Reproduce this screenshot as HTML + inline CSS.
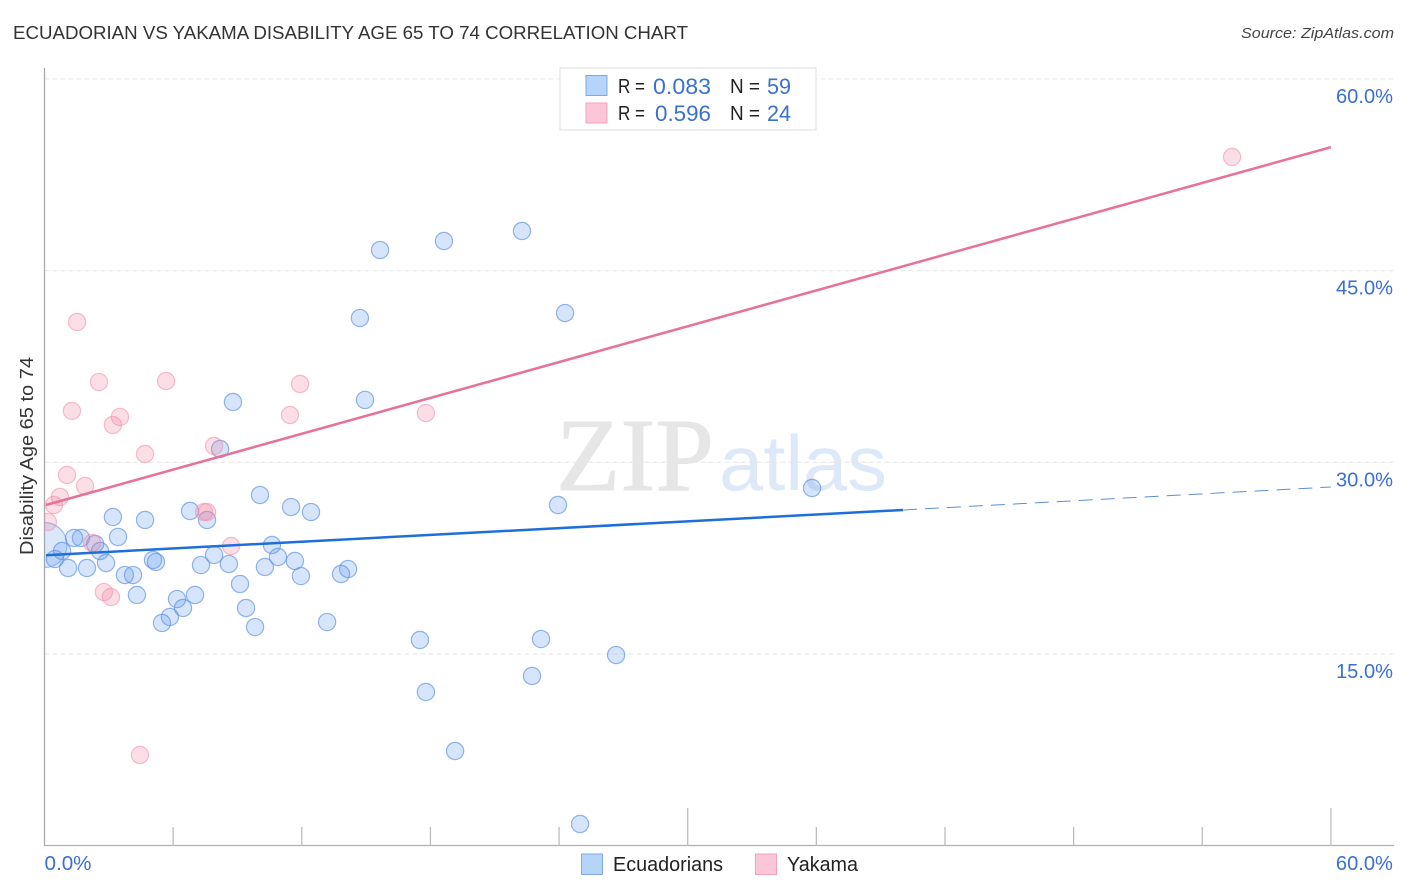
<!DOCTYPE html>
<html lang="en">
<head>
<meta charset="utf-8">
<title>Ecuadorian vs Yakama Disability Age 65 to 74 Correlation Chart</title>
<style>
html,body{margin:0;padding:0;background:#fff;width:1406px;height:892px;overflow:hidden}
svg{display:block;font-family:"Liberation Sans",sans-serif}
</style>
</head>
<body>
<svg id="chart" xmlns="http://www.w3.org/2000/svg" width="1406" height="892" viewBox="0 0 1406 892">
  <defs><clipPath id="plot-clip"><rect x="44.5" y="60" width="1350" height="786"/></clipPath></defs>
  <text x="13" y="39" font-size="18.5" fill="#333" textLength="675" lengthAdjust="spacingAndGlyphs">ECUADORIAN VS YAKAMA DISABILITY AGE 65 TO 74 CORRELATION CHART</text>
  <text x="1241" y="38" font-size="15" font-style="italic" fill="#444" textLength="153" lengthAdjust="spacingAndGlyphs">Source: ZipAtlas.com</text>
  <g>
    <text x="556" y="490" font-family="'Liberation Serif',serif" font-size="104" fill="#e6e6e6" stroke="#e6e6e6" stroke-width="1" textLength="158" lengthAdjust="spacingAndGlyphs">ZIP</text>
    <text x="719" y="490" font-size="78" fill="#dde9f9" textLength="168" lengthAdjust="spacingAndGlyphs">atlas</text>
  </g>
  <g id="grid"></g>
  <g id="axes"></g>
  <g id="points" clip-path="url(#plot-clip)"></g>
  <g id="trends"></g>
  <text transform="translate(33 456) rotate(-90)" font-size="18.5" fill="#333" text-anchor="middle" textLength="198" lengthAdjust="spacingAndGlyphs">Disability Age 65 to 74</text>
  <g>
    <rect x="560" y="68" width="256" height="62" fill="#fff" stroke="#dcdcdc" stroke-width="1"/>
    <rect x="586" y="75.5" width="21" height="20" fill="#b6d3f9" stroke="#7fa9e2" stroke-width="1"/>
    <rect x="586" y="103" width="21" height="20" fill="#fdc6d8" stroke="#f3a3bd" stroke-width="1"/>
    <text x="618" y="93" font-size="20" fill="#222" textLength="27" lengthAdjust="spacingAndGlyphs">R =</text>
    <text x="653" y="94" font-size="22" fill="#3a70d2" textLength="58" lengthAdjust="spacingAndGlyphs">0.083</text>
    <text x="730" y="93" font-size="20" fill="#222" textLength="30" lengthAdjust="spacingAndGlyphs">N =</text>
    <text x="767" y="94" font-size="22" fill="#3a70d2" textLength="24" lengthAdjust="spacingAndGlyphs">59</text>
    <text x="618" y="120" font-size="20" fill="#222" textLength="27" lengthAdjust="spacingAndGlyphs">R =</text>
    <text x="655" y="121" font-size="22" fill="#3a70d2" textLength="56" lengthAdjust="spacingAndGlyphs">0.596</text>
    <text x="730" y="120" font-size="20" fill="#222" textLength="30" lengthAdjust="spacingAndGlyphs">N =</text>
    <text x="767" y="121" font-size="22" fill="#3a70d2" textLength="24" lengthAdjust="spacingAndGlyphs">24</text>
  </g>
  <g>
    <rect x="581.5" y="854" width="21" height="20.5" fill="#b6d3f9" stroke="#7fa9e2" stroke-width="1"/>
    <text x="613" y="871" font-size="20" fill="#222" textLength="110" lengthAdjust="spacingAndGlyphs">Ecuadorians</text>
    <rect x="755.5" y="854" width="21" height="20.5" fill="#fdc6d8" stroke="#f3a3bd" stroke-width="1"/>
    <text x="787" y="871" font-size="20" fill="#222" textLength="71" lengthAdjust="spacingAndGlyphs">Yakama</text>
  </g>
</svg>
<script>
const ecuadorianX = [0,8.19,10.05,11.5,6.79,7.58,3.19,4.69,3.43,1.38,1.7,2.36,2.59,0.82,0.49,1.1,1.98,2.87,3.75,4.13,4.31,5.06,5.2,6.18,7.02,6.46,5.85,5.48,7.3,7.91,8.6,9.12,9.4,9.82,10.28,10.61,10.89,11.68,11.96,8.79,12.43,13.83,14.16,13.18,14.71,14.95,15.65,18.63,22.27,24.28,23.95,35.8,17.51,17.79,19.15,23.16,22.74,26.66,24.98];
const ecuadorianY = [23.53,31.04,27.44,26.5,26.19,25.49,25.72,25.49,24.16,24.08,24.08,23.61,23.06,23.06,22.43,21.73,21.73,22.12,21.18,21.18,19.62,22.36,22.2,19.3,19.62,18.6,17.9,17.43,21.96,22.75,22.04,20.48,18.6,17.11,21.81,23.53,22.59,22.28,21.1,34.72,26.11,21.26,21.65,17.5,41.29,34.88,46.61,47.32,48.1,41.68,26.66,27.99,16.1,12.03,7.41,16.17,13.28,14.92,1.7];
const yakamaX = [55.39,1.52,2.54,5.67,11.92,1.28,3.52,3.19,11.45,17.79,4.69,7.91,1.05,1.89,0.72,0.44,0.16,7.44,7.58,8.7,2.22,2.77,3.1,4.45];
const yakamaY = [53.89,40.98,36.28,36.36,36.13,34.02,33.55,32.92,33.7,33.86,30.65,31.28,29.01,28.15,27.29,26.66,25.33,26.11,26.11,23.45,23.69,19.85,19.46,7.1];
const ecuadorianTrendX = [0.07,40.04];
const ecuadorianTrendY = [22.73,26.27];
const ecuadorianForecastX = [40.04,60];
const ecuadorianForecastY = [26.27,28.07];
const yakamaTrendX = [0.07,60];
const yakamaTrendY = [26.66,54.66];
const yGridValues = [60,45,30,15];
const yTickLabels = ["60.0%","45.0%","30.0%","15.0%"];
const xTickValues = [6,12,18,24,30,36,42,48,54,60];
const xMajorTicks = [30,60];
const xTickLabels = ["0.0%","60.0%"];
const xLabelValues = [0,60];

const xScale = function (v) { return 44.5 + v * 21.44; };
const yScale = function (v) { return 845.7 - v * 12.78; };
const NS = "http://www.w3.org/2000/svg";
function make(tag, parent, attrs) {
  const el = document.createElementNS(NS, tag);
  Object.keys(attrs).forEach(function (k) { el.setAttribute(k, attrs[k]); });
  parent.appendChild(el);
  return el;
}
const grid = document.getElementById("grid");
const axes = document.getElementById("axes");
const pts = document.getElementById("points");
const trends = document.getElementById("trends");

yGridValues.forEach(function (v, i) {
  const line = make("line", grid, {x1: 44.5, x2: 1394, y1: yScale(v), y2: yScale(v), stroke: "#e6e6e6", "stroke-width": 1, "stroke-dasharray": "5 3"});
  
  
  const label = make("text", axes, {x: 1393, y: yScale(v) + 24, "text-anchor": "end", "font-size": 20, fill: "#3a70d2", textLength: 57, lengthAdjust: "spacingAndGlyphs"});
  label.textContent = yTickLabels[i];
  
  
});

const yAxis = make("line", axes, {x1: 44.5, x2: 44.5, y1: 68, y2: 846, stroke: "#aaa", "stroke-width": 1.3});


const xAxis = make("line", axes, {x1: 44, x2: 1394, y1: 845.5, y2: 845.5, stroke: "#b0b0b0", "stroke-width": 1.3});



xTickValues.forEach(function (v) {
  const top = xMajorTicks.indexOf(v) >= 0 ? 808 : 827;
  const tick = make("line", axes, {x1: xScale(v), x2: xScale(v), y1: top, y2: 846, stroke: "#bdbdbd", "stroke-width": 1.3});
  
  
});

xLabelValues.forEach(function (v, i) {
  const anchor = i === 0 ? "start" : "end";
  const x = i === 0 ? xScale(v) : xScale(v) + 62;
  const w = i === 0 ? 47 : 57;
  const label = make("text", axes, {x: x, y: 870, "text-anchor": anchor, "font-size": 20, fill: "#3a70d2", textLength: w, lengthAdjust: "spacingAndGlyphs"});
  label.textContent = xTickLabels[i];
  
  
});

ecuadorianX.forEach(function (v, i) {
  const big = i === 0;
  const c = make("circle", pts, {
    cx: xScale(v), cy: yScale(ecuadorianY[i]), r: big ? 22.5 : 8.6,
    fill: "#5a97ee", "fill-opacity": big ? 0.22 : 0.25,
    stroke: "#5f93e2", "stroke-opacity": big ? 0.55 : 0.68, "stroke-width": 1.2
  });
  
  
});
yakamaX.forEach(function (v, i) {
  const c = make("circle", pts, {
    cx: xScale(v), cy: yScale(yakamaY[i]), r: 8.6,
    fill: "#f5809f", "fill-opacity": 0.26,
    stroke: "#f08aa8", "stroke-opacity": 0.55, "stroke-width": 1.2
  });
  
  
});

const forecast = make("line", trends, {x1: xScale(ecuadorianForecastX[0]), y1: yScale(ecuadorianForecastY[0]), x2: xScale(ecuadorianForecastX[1]), y2: yScale(ecuadorianForecastY[1]), stroke: "#5c8fd0", "stroke-width": 1, "stroke-dasharray": "14 8"});


const blue = make("line", trends, {x1: xScale(ecuadorianTrendX[0]), y1: yScale(ecuadorianTrendY[0]), x2: xScale(ecuadorianTrendX[1]), y2: yScale(ecuadorianTrendY[1]), stroke: "#1e6fd9", "stroke-width": 2.5});


const pink = make("line", trends, {x1: xScale(yakamaTrendX[0]), y1: yScale(yakamaTrendY[0]), x2: xScale(yakamaTrendX[1]), y2: yScale(yakamaTrendY[1]), stroke: "#e8709b", "stroke-width": 2.5});


</script>
</body>
</html>
